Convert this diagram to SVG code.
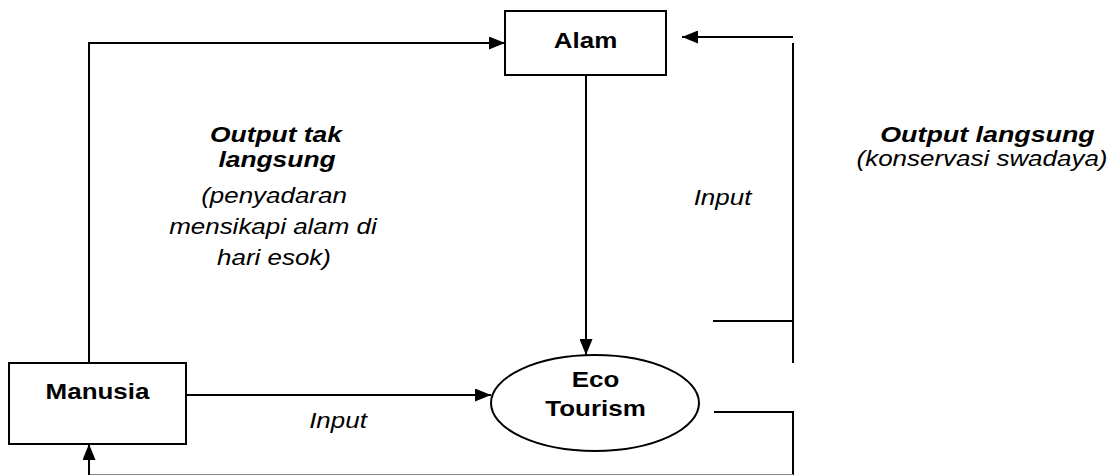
<svg xmlns="http://www.w3.org/2000/svg" width="1118" height="475" viewBox="0 0 1118 475">
<style>
.box{fill:#fff;stroke:#000;stroke-width:2}
.ln{fill:none;stroke:#000;stroke-width:2}
.b{font-family:"Liberation Sans",Arial,sans-serif;font-size:22px;font-weight:bold;text-anchor:middle;fill:#000}
.bi{font-family:"Liberation Sans",Arial,sans-serif;font-size:22px;font-weight:bold;font-style:italic;text-anchor:middle;fill:#000}
.i{font-family:"Liberation Sans",Arial,sans-serif;font-size:22px;font-style:italic;text-anchor:middle;fill:#000}
</style>
<defs>
<marker id="ah" markerUnits="userSpaceOnUse" markerWidth="16" markerHeight="13" refX="16" refY="6.5" orient="auto">
<path d="M0,0 L16,6.5 L0,13 z" fill="#000"/>
</marker>
</defs>
<rect width="1118" height="475" fill="#fff"/>
<g id="connectors">
<polyline class="ln" points="89,363 89,43 505,43" marker-end="url(#ah)"/>
<line class="ln" x1="793" y1="37" x2="682" y2="37" marker-end="url(#ah)"/>
<line class="ln" x1="793" y1="43" x2="793" y2="363"/>
<line class="ln" x1="713" y1="321" x2="793" y2="321"/>
<line class="ln" x1="586" y1="75" x2="586" y2="355" marker-end="url(#ah)"/>
<line class="ln" x1="186" y1="395" x2="491" y2="395" marker-end="url(#ah)"/>
<polyline class="ln" points="714,412 793,412 793,475"/>
<line x1="89" y1="474.5" x2="793" y2="474.5" stroke="#888" stroke-width="1"/>
<line class="ln" x1="89" y1="475" x2="89" y2="444" marker-end="url(#ah)"/>
</g>
<g id="alam">
<rect class="box" x="505" y="11" width="161" height="64"/>
<text class="b" transform="translate(585.5 48) scale(1.18 1)" x="0" y="0">Alam</text>
</g>
<g id="manusia">
<rect class="box" x="9" y="363" width="177" height="81"/>
<text class="b" transform="translate(97.5 399) scale(1.18 1)" x="0" y="0">Manusia</text>
</g>
<g id="ecotourism">
<ellipse cx="595" cy="403" rx="104" ry="48" fill="#fff" stroke="#000" stroke-width="2"/>
<text class="b" transform="translate(595.5 387) scale(1.18 1)" x="0" y="0">Eco</text>
<text class="b" transform="translate(595.5 416) scale(1.18 1)" x="0" y="0">Tourism</text>
</g>
<g id="labels">
<text class="i" transform="translate(338 428) scale(1.18 1)" x="0" y="0">Input</text>
<text class="i" transform="translate(722.5 205) scale(1.18 1)" x="0" y="0">Input</text>
<text class="bi" transform="translate(276 142) scale(1.2 1)" x="0" y="0">Output tak</text>
<text class="bi" transform="translate(277 166.5) scale(1.2 1)" x="0" y="0">langsung</text>
<text class="i" transform="translate(274 202.5) scale(1.18 1)" x="0" y="0">(penyadaran</text>
<text class="i" transform="translate(273 234) scale(1.18 1)" x="0" y="0">mensikapi alam di</text>
<text class="i" transform="translate(274 265) scale(1.18 1)" x="0" y="0">hari esok)</text>
<text class="bi" transform="translate(987.5 142) scale(1.22 1)" x="0" y="0">Output langsung</text>
<text class="i" transform="translate(982 166) scale(1.18 1)" x="0" y="0">(konservasi swadaya)</text>
</g>
</svg>
